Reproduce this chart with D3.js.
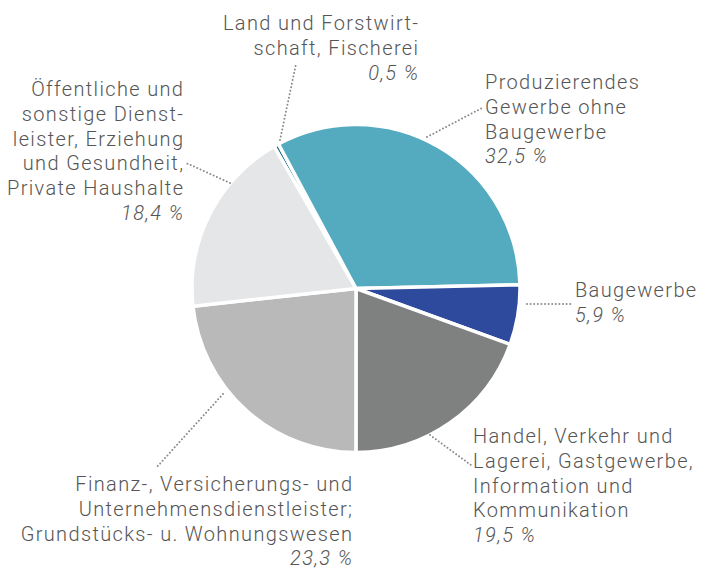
<!DOCTYPE html>
<html>
<head>
<meta charset="utf-8">
<script src="https://cdn.jsdelivr.net/npm/d3@7"></script>
<style>
  html, body { margin: 0; padding: 0; background: #fff; }
  svg { display: block; }
  .lbl { font-family: Roboto, "Noto Sans", sans-serif; font-weight: 300; font-size: 20px; letter-spacing: 1.35px; fill: #555; }
  .lbl .pct { font-style: italic; }
</style>
</head>
<body>
<svg id="chart" width="704" height="569"></svg>
<script>
// Bruttowertschöpfung nach Wirtschaftsbereichen (Anteile in %)
const categories = [
  "Land und Forstwirtschaft, Fischerei",
  "Produzierendes Gewerbe ohne Baugewerbe",
  "Baugewerbe",
  "Handel, Verkehr und Lagerei, Gastgewerbe, Information und Kommunikation",
  "Finanz-, Versicherungs- und Unternehmensdienstleister; Grundstücks- u. Wohnungswesen",
  "Öffentliche und sonstige Dienstleister, Erziehung und Gesundheit, Private Haushalte"
];
const values = [0.5, 32.5, 5.9, 19.5, 23.3, 18.4];
const colors = ["#1f6f87", "#54aabf", "#2d4a9d", "#7f8180", "#b9b9b9", "#e5e6e8"];

// Label text broken into lines as set in the layout
const labelLines = [
  ["Land und Forstwirt-", "schaft, Fischerei"],
  ["Produzierendes", "Gewerbe ohne", "Baugewerbe"],
  ["Baugewerbe"],
  ["Handel, Verkehr und", "Lagerei, Gastgewerbe,", "Information und", "Kommunikation"],
  ["Finanz-, Versicherungs- und", "Unternehmensdienstleister;", "Grundstücks- u. Wohnungswesen"],
  ["Öffentliche und", "sonstige Dienst-", "leister, Erziehung", "und Gesundheit,", "Private Haushalte"]
];

// Label placement: anchor point, alignment, first baseline
const labelPos = [
  { x: 418, y: 30,  anchor: "end" },
  { x: 485, y: 89,  anchor: "start" },
  { x: 575, y: 297, anchor: "start" },
  { x: 473, y: 443, anchor: "start" },
  { x: 352, y: 491, anchor: "end" },
  { x: 183, y: 96,  anchor: "end" }
];
// Dotted leader lines: [from slice edge, to label]
const leaders = [
  [[280, 140], [296, 64]],
  [[427, 137], [482, 108]],
  [[527, 304], [572, 304]],
  [[430, 435], [471, 465]],
  [[223, 394], [156, 468]],
  [[230, 183], [186, 163]]
];

const fmt = v => d3.format(".1f")(v).replace(".", ",") + " %";

const svg = d3.select("#chart");
const cx = 356, cy = 288.5, r = 164;
const lineH = 24.8;
const tracking = 1.35;

const pie = d3.pie().sort(null).value(d => d)
  .startAngle(-30 * Math.PI / 180)
  .endAngle(330 * Math.PI / 180);
const arc = d3.arc().innerRadius(0).outerRadius(r);

const g = svg.append("g").attr("transform", `translate(${cx},${cy})`);
g.selectAll("path")
  .data(pie(values))
  .join("path")
  .attr("d", arc)
  .attr("fill", (d, i) => colors[i])
  .attr("stroke", "#fff")
  .attr("stroke-width", 3.5)
  .attr("stroke-linejoin", "round");

// leaders
svg.append("g").selectAll("line")
  .data(leaders)
  .join("line")
  .attr("x1", d => d[0][0]).attr("y1", d => d[0][1])
  .attr("x2", d => d[1][0]).attr("y2", d => d[1][1])
  .attr("stroke", "#8a8a8a")
  .attr("stroke-width", 2)
  .attr("stroke-linecap", "round")
  .attr("stroke-dasharray", "0 3.6");

// labels (end-anchored text shifted by the trailing letter-spacing)
const lg = svg.append("g");
labelLines.forEach((lines, i) => {
  const p = labelPos[i];
  const x = p.anchor === "end" ? p.x + tracking : p.x;
  const t = lg.append("text").attr("class", "lbl").attr("text-anchor", p.anchor);
  lines.forEach((ln, j) => {
    t.append("tspan").attr("x", x).attr("y", p.y + j * lineH).text(ln);
  });
  t.append("tspan").attr("class", "pct")
    .attr("x", x).attr("y", p.y + lines.length * lineH)
    .text(fmt(values[i]));
});
</script>
</body>
</html>
